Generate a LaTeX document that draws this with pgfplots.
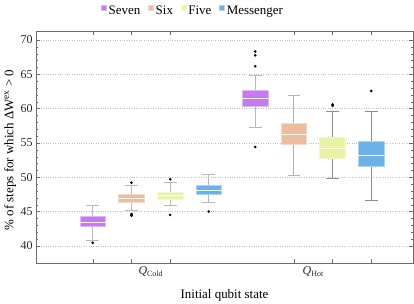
\documentclass[border=0pt]{standalone}
\usepackage{pgfplots}
\pgfplotsset{compat=1.18}
\usepackage{fontspec}
\setmainfont{Liberation Serif}
\definecolor{cseven}{RGB}{198,122,236}
\definecolor{csix}{RGB}{236,188,156}
\definecolor{cfive}{RGB}{234,242,166}
\definecolor{cmess}{RGB}{106,178,232}
% color, x, lower whisker, lower quartile, median, upper quartile, upper whisker, whisker colour
\newcommand{\bx}[8]{%
  \pgfmathsetmacro\bxL{#2-0.33}\pgfmathsetmacro\bxR{#2+0.33}%
  \pgfmathsetmacro\capL{#2-0.165}\pgfmathsetmacro\capR{#2+0.165}%
  \addplot[forget plot, #8, line width=1pt, unbounded coords=jump] coordinates
    {(#2,#3) (#2,#4) (nan,nan) (#2,#6) (#2,#7) (nan,nan) (\capL,#3) (\capR,#3) (nan,nan) (\capL,#7) (\capR,#7)};
  \addplot[forget plot, fill=#1, draw=#1!55!white, line width=0.8pt] coordinates
    {(\bxL,#4) (\bxR,#4) (\bxR,#6) (\bxL,#6)} -- cycle;
  \addplot[forget plot, white, line width=0.9pt] coordinates {(\bxL,#5) (\bxR,#5)};
}
\begin{document}
\begin{tikzpicture}
\begin{axis}[
  scale only axis, width=377bp, height=232bp,
  xmin=-1.47, xmax=8.28, ymin=37.5, ymax=71.3,
  /pgf/number format/assume math mode=true,
  tick label style={font=\fontsize{12}{14}\selectfont, text=black!85},
  xtick={0,1,2,5.2,6.2,7.2}, xticklabels={},
  extra x ticks={1.5,5.7},
  extra x tick labels={\textit{Q}\textsubscript{Cold},\textit{Q}\textsubscript{Hot}},
  extra x tick style={major tick length=0pt, grid=none},
  ytick={40,45,50,55,60,65,70}, minor y tick num=4,
  ymajorgrids, major grid style={dotted, gray!50, line width=0.5pt},
  axis line style={gray!85!black}, tick style={gray!85!black},
  major tick length=4bp, minor tick length=2bp,
  ylabel={\% of steps for which ΔW\textsuperscript{ex} > 0},
  xlabel={Initial qubit state},
  every axis y label/.style={at={(axis description cs:-0.0602,0.487)}, rotate=90, anchor=base,
    font=\fontsize{13}{15}\selectfont},
  every axis x label/.style={at={(axis description cs:0.5,-0.151)}, anchor=base,
    font=\fontsize{13}{15}\selectfont},
  legend columns=-1,
  legend style={draw=none, fill=none, at={(axis description cs:0.414,1.086)}, anchor=center,
    font=\fontsize{13}{15}\selectfont,
    nodes={inner xsep=0bp, inner ysep=1bp},
    /tikz/every odd column/.style={column sep=2bp},
    /tikz/every even column/.style={column sep=8bp}},
  legend image code/.code={\draw[#1] (0bp,0.5bp) rectangle (5bp,5.5bp);},
]
% Cold
\bx{cseven}{0}{40.8}{42.8}{43.45}{44.3}{45.9}{gray!55}
\bx{csix}{1}{45.1}{46.3}{46.9}{47.5}{48.8}{gray!55}
\bx{cfive}{2}{45.9}{46.8}{47.35}{47.8}{49.25}{gray!55}
\bx{cmess}{3}{46.3}{47.5}{48.1}{48.75}{50.4}{gray!55}
% Hot
\bx{cseven}{4.2}{57.3}{60.3}{61.5}{62.6}{64.75}{gray!55}
\bx{csix}{5.2}{50.2}{54.8}{56.3}{57.85}{61.9}{gray!60}
\bx{cfive}{6.2}{49.8}{52.75}{54.25}{55.75}{59.5}{gray!90}
\bx{cmess}{7.2}{46.6}{51.6}{53.2}{55.15}{59.5}{gray!90}
% outliers
\addplot[forget plot, only marks, mark=*, mark size=1.1pt, black] coordinates {
  (0,40.45) (1,49.2) (1,44.65) (1,44.5) (1,44.4) (2,49.7) (2,44.5) (3,45.0)
  (4.2,68.3) (4.2,67.75) (4.2,66.15) (4.2,54.4) (6.2,60.4) (6.2,60.6) (7.2,62.55)};
\addlegendimage{fill=cseven, draw=cseven!55!white}
\addlegendentry{Seven}
\addlegendimage{fill=csix, draw=csix!55!white}
\addlegendentry{Six}
\addlegendimage{fill=cfive, draw=cfive!55!white}
\addlegendentry{Five}
\addlegendimage{fill=cmess, draw=cmess!55!white}
\addlegendentry{Messenger}
\end{axis}
\pgfresetboundingbox
\path (current axis.south west) ++(-36bp,-41bp) coordinate (bbA);
\path (current axis.north east) ++(1bp,31bp) coordinate (bbB);
\useasboundingbox (bbA) rectangle (bbB);
\end{tikzpicture}
\end{document}
